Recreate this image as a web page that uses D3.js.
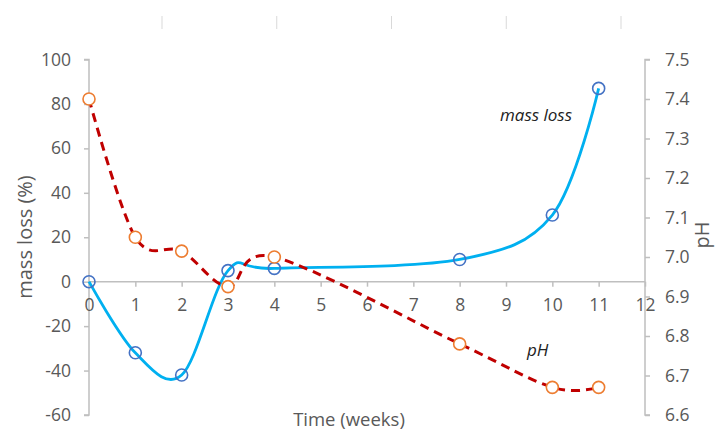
<!DOCTYPE html>
<html>
<head>
<meta charset="utf-8">
<script src="https://cdn.jsdelivr.net/npm/d3@7"></script>
<style>
  body { margin: 0; background: #fff; }
  text { font-family: "Open Sans", sans-serif; }
</style>
</head>
<body>
<div class="vis1"></div>
<script>
// Data
var weeks    = [0, 1, 2, 3, 4, 8, 10, 11];
var massLoss = [0, -32, -42, 5, 6, 10, 30, 87];
var pH       = [7.40, 7.05, 7.015, 6.925, 7.00, 6.78, 6.67, 6.67];
var xTicks = [0, 1, 2, 3, 4, 5, 6, 7, 8, 9, 10, 11, 12];
var leftTicks = [100, 80, 60, 40, 20, 0, -20, -40, -60];
var rightTicks = [7.5, 7.4, 7.3, 7.2, 7.1, 7.0, 6.9, 6.8, 6.7, 6.6];
var topMarks = [1, 2, 3, 4, 5];   // faint marks at the top edge

var width = 718, height = 432;
var plot = {left: 89, right: 645, top: 59.5, bottom: 415};

var svg = d3.select(".vis1")
  .append("svg")
  .attr("width", width)
  .attr("height", height);

var x = d3.scaleLinear().domain([0, 12]).range([plot.left, plot.right]);
var yL = d3.scaleLinear().domain([-60, 100]).range([plot.bottom, plot.top]);
var yR = d3.scaleLinear().domain([6.6, 7.5]).range([plot.bottom, plot.top]);

var grey = "#595959", axisCol = "#BFBFBF";

// faint marks at top
var topX = d3.scaleLinear().domain([1, 5]).range([162, 621]);
svg.selectAll(".topmark")
  .data(topMarks)
  .enter()
  .append("line")
  .attr("x1", function(d) { return topX(d); })
  .attr("x2", function(d) { return topX(d); })
  .attr("y1", 16).attr("y2", 29)
  .style("stroke", "#D9D9D9").style("stroke-width", 1);

// plain hyphen for negatives, like the original
var fmtInt = function(d) { return String(d); };

// left axis
var leftAxis = svg.append("g")
  .attr("transform", "translate(" + plot.left + ",0)")
  .call(d3.axisLeft(yL).tickValues(leftTicks).tickSize(5).tickPadding(13).tickFormat(fmtInt));

// right axis
var rightAxis = svg.append("g")
  .attr("transform", "translate(" + plot.right + ",0)")
  .call(d3.axisRight(yR).tickValues(rightTicks).tickSize(5).tickPadding(15).tickFormat(d3.format(".1f")));

// x axis at y = 0
var xAxis = svg.append("g")
  .attr("transform", "translate(0," + yL(0) + ")")
  .call(d3.axisBottom(x).tickValues(xTicks).tickSize(5).tickPadding(12).tickFormat(fmtInt));

[leftAxis, rightAxis, xAxis].forEach(function(g) {
  g.select(".domain").attr("stroke", axisCol).attr("stroke-width", 1.5);
  g.selectAll(".tick line").attr("stroke", axisCol).attr("stroke-width", 1.5);
  g.selectAll(".tick text")
    .attr("fill", grey)
    .style("font-size", "17.5px")
    .style("font-family", "'Open Sans', sans-serif");
});
// Excel-style axis lines without end caps
leftAxis.select(".domain").attr("d", "M-5," + plot.top + "H0V" + plot.bottom + "H-5");
rightAxis.select(".domain").attr("d", "M5," + plot.top + "H0V" + plot.bottom + "H5");
xAxis.select(".domain").attr("d", "M" + plot.left + ",0H" + plot.right);

// mass loss curve
var massLine = d3.line()
  .x(function(d, i) { return x(weeks[i]); })
  .y(function(d) { return yL(d); })
  .curve(d3.curveCardinal.tension(0));

svg.append("path")
  .datum(massLoss)
  .attr("d", massLine)
  .style("fill", "none")
  .style("stroke", "#00B0F0")
  .style("stroke-width", 2.8);

svg.selectAll(".mass-pt")
  .data(massLoss)
  .enter()
  .append("circle")
  .attr("cx", function(d, i) { return x(weeks[i]); })
  .attr("cy", function(d) { return yL(d); })
  .attr("r", 6)
  .style("fill", "#fff")
  .style("fill-opacity", 0)
  .style("stroke", "#4472C4")
  .style("stroke-width", 1.6);

// pH curve
var phLine = d3.line()
  .x(function(d, i) { return x(weeks[i]); })
  .y(function(d) { return yR(d); })
  .curve(d3.curveCardinal.tension(0));

svg.append("path")
  .datum(pH)
  .attr("d", phLine)
  .style("fill", "none")
  .style("stroke", "#C00000")
  .style("stroke-width", 3)
  .style("stroke-dasharray", "9,6");

svg.selectAll(".ph-pt")
  .data(pH)
  .enter()
  .append("circle")
  .attr("cx", function(d, i) { return x(weeks[i]); })
  .attr("cy", function(d) { return yR(d); })
  .attr("r", 6)
  .style("fill", "#fff")
  .style("stroke", "#ED7D31")
  .style("stroke-width", 1.6);

// series labels
svg.append("text")
  .attr("x", 500).attr("y", 121)
  .text("mass loss")
  .style("font-style", "italic")
  .style("font-size", "17px")
  .attr("fill", "#222");

svg.append("text")
  .attr("x", 527).attr("y", 356)
  .text("pH")
  .style("font-style", "italic")
  .style("font-size", "17px")
  .attr("fill", "#222");

// axis titles
svg.append("text")
  .attr("transform", "translate(32,237) rotate(-90)")
  .attr("text-anchor", "middle")
  .text("mass loss (%)")
  .style("font-size", "20px")
  .attr("fill", grey);

svg.append("text")
  .attr("transform", "translate(709,235) rotate(-90)")
  .attr("text-anchor", "middle")
  .text("pH")
  .style("font-size", "20px")
  .attr("fill", grey);

svg.append("text")
  .attr("x", 349).attr("y", 426)
  .attr("text-anchor", "middle")
  .text("Time (weeks)")
  .style("font-size", "18.5px")
  .attr("fill", grey);
</script>
</body>
</html>
